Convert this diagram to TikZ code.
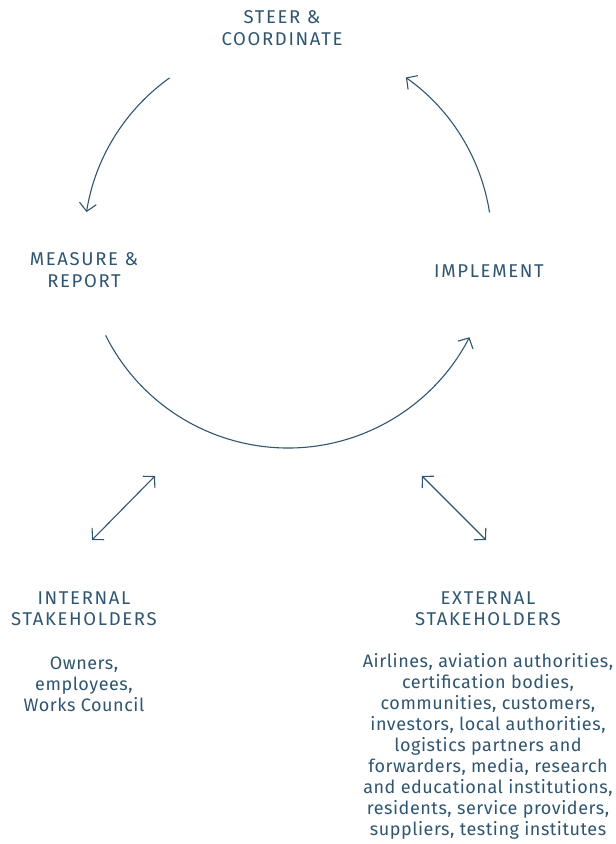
\documentclass[tikz,border=0pt]{standalone}
\usepackage{fontspec}
\setmainfont{Fira Sans}[LetterSpace=3]
\newfontfamily\capsfont{Fira Sans}[LetterSpace=9]
\usetikzlibrary{arrows.meta}
\definecolor{ink}{RGB}{47,85,112}
\begin{document}
\begin{tikzpicture}[x=1pt,y=1pt,
  lbl/.style={text=ink,align=center,inner sep=0pt,font=\capsfont\fontsize{18.5}{21.5}\selectfont},
  txt/.style={text=ink,align=center,inner sep=0pt,font=\fontsize{18}{21}\selectfont},
  flow/.style={draw=ink,line width=1.1pt,-{Straight Barb[length=8pt,width=17pt]}},
  link/.style={draw=ink,line width=1.1pt,{Straight Barb[length=8pt,width=17pt]}-{Straight Barb[length=8pt,width=17pt]}}]
\useasboundingbox (0,0) rectangle (616,844);

% cycle labels
\node[lbl] (steer) at (282,816) {STEER \&\\COORDINATE};
\node[lbl] (measure) at (84,574) {MEASURE \&\\REPORT};
\node[lbl] (implement) at (489,573) {IMPLEMENT};

% centre of the cycle circle
\coordinate (c) at (288,600);
\def\rad{204}

% steer -> measure, implement -> steer, measure -> implement
\draw[flow] ([shift={(125.5:\rad)}]c) arc[start angle=125.5,end angle=171,radius=\rad];
\draw[flow] ([shift={(8.9:\rad)}]c) arc[start angle=8.9,end angle=54.7,radius=\rad];
\draw[flow] ([shift={(206.6:\rad)}]c) arc[start angle=206.6,end angle=332.8,radius=\rad];

% stakeholder groups
\node[lbl] (inthead) at (84,235.5) {INTERNAL\\STAKEHOLDERS};
\node[txt] (intbody) at (84,160) {Owners,\\employees,\\Works Council};
\node[lbl] (exthead) at (488,235.5) {EXTERNAL\\STAKEHOLDERS};
\node[txt] (extbody) at (488,98) {Airlines, aviation authorities,\\certification bodies,\\communities, customers,\\investors, local authorities,\\logistics partners and\\forwarders, media, research\\and educational institutions,\\residents, service providers,\\suppliers, testing institutes};

% exchange between the cycle and the stakeholder groups
\coordinate (inA) at (92,304);
\coordinate (inB) at (155,368);
\coordinate (exA) at (422,368);
\coordinate (exB) at (486,304);
\draw[link] (inA) -- (inB);
\draw[link] (exA) -- (exB);
\end{tikzpicture}
\end{document}
